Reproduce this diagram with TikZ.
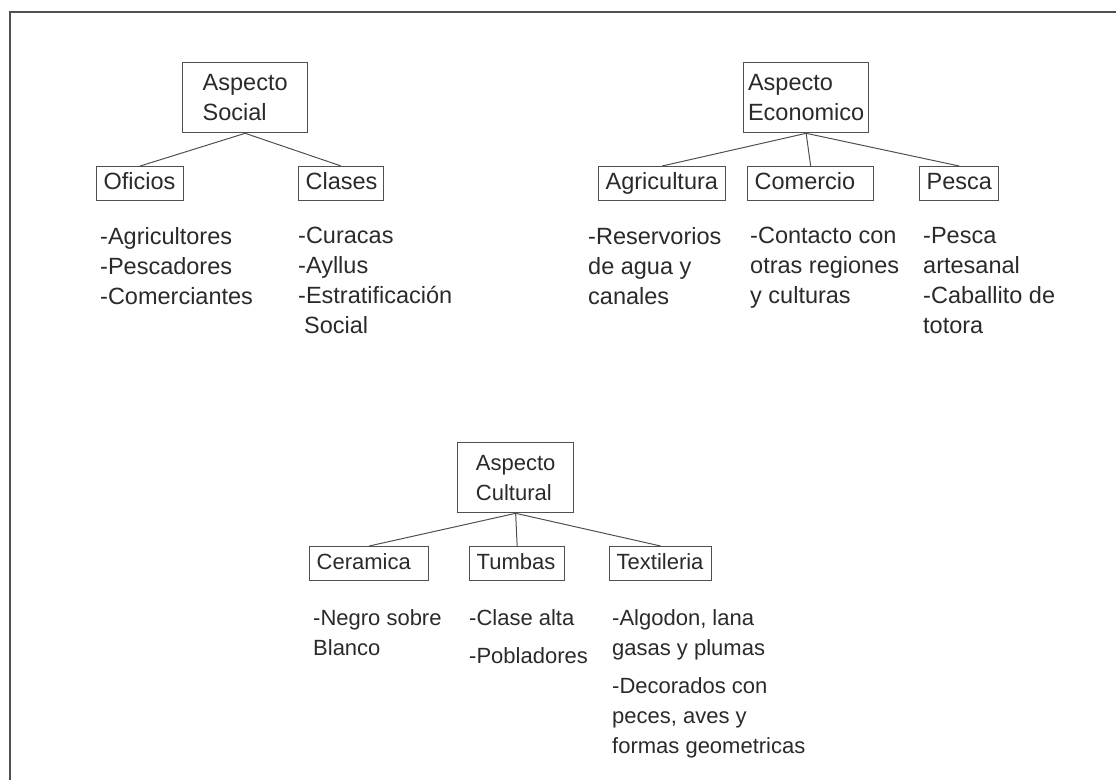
\documentclass[tikz,border=0pt]{standalone}
\usepackage{fontspec}
\setmainfont{Liberation Sans}
\definecolor{ink}{HTML}{2A2A2A}
\definecolor{rule}{HTML}{505050}
\begin{document}
\begin{tikzpicture}[x=1pt, y=-1pt,
    big/.style={font=\fontsize{23.5}{30}\selectfont},
    low/.style={font=\fontsize{22}{30}\selectfont},
    headbox/.style={draw=rule, line width=1.3pt, text=ink, align=left,
        anchor=north west, minimum height=70, inner sep=0},
    subbox/.style={draw=rule, line width=1.3pt, text=ink, align=left,
        anchor=north west, minimum height=34, inner ysep=0, inner xsep=7,
        text height=17, text depth=5, text width=#1},
    notes/.style={text=ink, align=left, anchor=north west, inner sep=0},
    link/.style={draw=rule, line width=1pt}]
\useasboundingbox (0,0) rectangle (1116,780);
\draw[rule, line width=2pt] (10,780) -- (10,12) -- (1116,12);

    % social begin
\node[headbox, big, minimum width=125] (social) at (182,62) {Aspecto\\Social};
\node[subbox=73, big] (oficios) at (96,166) {Oficios};
\node[subbox=71, big] (clases) at (298,166) {Clases};
\draw[link] (social.south) -- (oficios.north);
\draw[link] (social.south) -- (clases.north);
\node[notes, big] (oficioslist) at (100,227) {-Agricultores\\-Pescadores\\-Comerciantes};
\node[notes, big] (claseslist) at (298,227) {-Curacas\\-Ayllus\\-Estratificación\\\hspace*{6pt}Social};
    % social end

    % economico begin
\node[headbox, big, minimum width=125] (economico) at (743,62) {Aspecto\\Economico};
\node[subbox=113, big] (agricultura) at (598,166) {Agricultura};
\node[subbox=112, big] (comercio) at (747,166) {Comercio};
\node[subbox=65, big] (pesca) at (919,166) {Pesca};
\draw[link] (economico.south) -- (agricultura.north);
\draw[link] (economico.south) -- (comercio.north);
\draw[link] (economico.south) -- (pesca.north);
\node[notes, big] (agricultoralist) at (588,227) {-Reservorios\\de agua y\\canales};
\node[notes, big] (comerciolist) at (750,227) {-Contacto con\\otras regiones\\y culturas};
\node[notes, big] (pescalist) at (923,227) {-Pesca\\artesanal\\-Caballito de\\totora};
    % economico end

    % cultural begin
\node[headbox, low, minimum width=116] (cultural) at (457,442) {Aspecto\\Cultural};
\node[subbox=105, low] (ceramica) at (309,546) {Ceramica};
\node[subbox=81, low] (tumbas) at (469,546) {Tumbas};
\node[subbox=88, low] (textileria) at (609,546) {Textileria};
\draw[link] (cultural.south) -- (ceramica.north);
\draw[link] (cultural.south) -- (tumbas.north);
\draw[link] (cultural.south) -- (textileria.north);
\node[notes, low] (ceramicalist) at (313,609) {-Negro sobre\\Blanco};
\node[notes, low] (tumbaslist) at (469,609) {-Clase alta\\[8pt]-Pobladores};
\node[notes, low] (textilerialist) at (612,609) {-Algodon, lana\\gasas y plumas\\[8pt]-Decorados con\\peces, aves y\\formas geometricas};
    % cultural end
\end{tikzpicture}
\end{document}
